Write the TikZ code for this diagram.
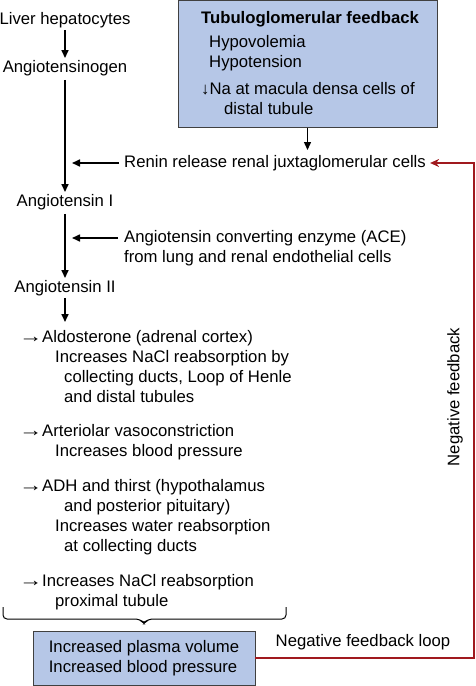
\documentclass[tikz,border=0pt]{standalone}
\usepackage{fontspec}
\setmainfont{Liberation Sans}
\usetikzlibrary{arrows.meta,positioning,calc}
\definecolor{boxblue}{HTML}{B6C7E7}
\definecolor{fbred}{HTML}{A0191E}
\tikzset{
  txt/.style  ={inner sep=2pt,align=left,font=\fontsize{16.7}{19.8}\selectfont},
  box/.style  ={draw=black!75,line width=0.9pt,fill=boxblue,inner sep=0pt},
  ar/.style   ={-{Triangle[length=8pt,width=7pt]},line width=1.6pt},
  fb/.style   ={-{Stealth[length=9pt,width=8pt]},line width=1.4pt,draw=fbred},
  brc/.style  ={line width=1pt,rounded corners=4pt},
}
\newcommand{\rto}{\makebox[17pt][l]{\hspace*{-6pt}\scalebox{1.4}[1.1]{→}}}

\begin{document}
\begin{tikzpicture}[x=1pt,y=-1pt]
\useasboundingbox (0,0) rectangle (475,686);
% main cascade
\node[txt] (liver) at (65,20) {Liver hepatocytes};
\node[txt] (agen) at (65,68) {Angiotensinogen};
\node[txt] (ang1) at (65,202) {Angiotensin I};
\node[txt] (ang2) at (65,288) {Angiotensin II};
% tubuloglomerular feedback box
\node[box,minimum width=259pt,minimum height=127pt] (tgf) at (307.5,64) {};
\node[txt,font=\fontsize{16.7}{19.8}\selectfont\bfseries] (tgfhead) at (310,19) {Tubuloglomerular feedback};
\node[txt,anchor=west] (hypo) at (207,53.5) {Hypovolemia\\Hypotension};
\node[txt,anchor=west] (na) at (199,98.5) {↓Na at macula densa cells of\\\hspace*{23pt}distal tubule};
% side inputs
\node[txt,anchor=west] (renin) at (122,163) {Renin release renal juxtaglomerular cells};
\node[txt,anchor=west] (ace) at (122,248) {Angiotensin converting enzyme (ACE)\\from lung and renal endothelial cells};
\coordinate (aceIn) at (118,238);
\coordinate (listTop) at (65,322);
% effects of angiotensin II
\node[txt,anchor=west] (aldo) at (23,366.5) {\rto Aldosterone (adrenal cortex)\\
  \hspace*{30pt}Increases NaCl reabsorption by\\
  \hspace*{39pt}collecting ducts, Loop of Henle\\
  \hspace*{39pt}and distal tubules};
\node[txt,anchor=west] (vaso) at (23,442.5) {\rto Arteriolar vasoconstriction\\
  \hspace*{30pt}Increases blood pressure};
\node[txt,anchor=west] (adh) at (23,517) {\rto ADH and thirst (hypothalamus\\
  \hspace*{39pt}and posterior pituitary)\\
  \hspace*{30pt}Increases water reabsorption\\
  \hspace*{39pt}at collecting ducts};
\node[txt,anchor=west] (pct) at (23,592.5) {\rto Increases NaCl reabsorption\\
  \hspace*{30pt}proximal tubule};
\coordinate (braceL) at (3,607);
\coordinate (braceR) at (286,607);
\coordinate (braceTip) at (144,624);
% result
\node[box,txt,minimum width=222pt,minimum height=54pt] (incr) at (144,658) {Increased plasma volume\\Increased blood pressure};
\coordinate (fbCorner) at (474,163);
\node[txt] (fblabel) at (363,642) {Negative feedback loop};
\node[txt,rotate=90] (fbside) at (455,397) {Negative feedback};
% arrows
\draw[ar] (liver) -- (agen);
\draw[ar,shorten <=2pt] (agen) -- (ang1);
\draw[ar,shorten <=2pt] (ang1) -- (ang2);
\draw[ar] (ang2) -- (listTop);
\draw[ar,shorten <=3pt,shorten >=7pt] (renin.west) -- (renin.west -| ang1);
\draw[ar,shorten >=7pt] (aceIn) -- (aceIn -| ang1);
\draw[ar,line width=1.3pt] (tgf.south) -- ($(tgf.south |- renin.north)+(0,-3)$);
\draw[brc] (braceL) |- ($(braceTip)+(-4,-5)$) -- (braceTip) -- ($(braceTip)+(4,-5)$) -| (braceR);
\draw[fb,shorten >=2pt] (incr.east) -| (fbCorner) -- (renin.east);
\end{tikzpicture}
\end{document}
